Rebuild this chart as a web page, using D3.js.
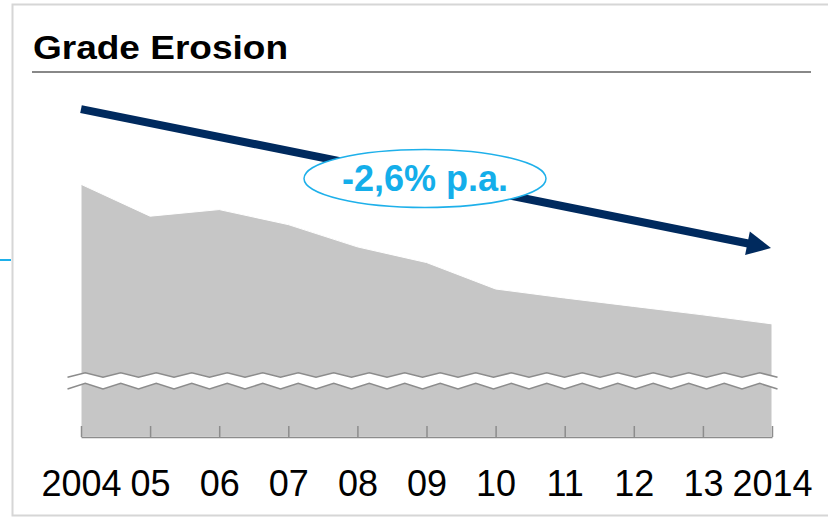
<!DOCTYPE html>
<html>
<head>
<meta charset="utf-8">
<script src="https://cdn.jsdelivr.net/npm/d3@7"></script>
<style>
  body { margin: 0; background: #fff; }
  svg { display: block; font-family: "Liberation Sans", Arial, sans-serif; }
</style>
</head>
<body>
<div id="chart"></div>
<script>
// years along the x axis and the grade index (2004 = 100)
var years = ["2004", "05", "06", "07", "08", "09", "10", "11", "12", "13", "2014"];
var gradeIndex = [100, 94.7, 95.8, 93.3, 89.6, 87.0, 82.6, 81.1, 79.7, 78.3, 76.8];
var trendLabel = "-2,6% p.a.";
var trendFrom = 112.5, trendTo = 89.4; // trend arrow, in index units

var width = 828, height = 517;

var svg = d3
  .select("#chart")
  .append("svg")
  .attr("width", width)
  .attr("height", height);

// frame
svg
  .append("path")
  .attr("d", "M" + (width + 2) + ",4.5H12.5V515.5H" + (width + 2))
  .attr("fill", "none")
  .attr("stroke", "#d6d6d6")
  .attr("stroke-width", 2);

svg
  .append("line")
  .attr("x1", 0)
  .attr("x2", 11)
  .attr("y1", 260)
  .attr("y2", 260)
  .attr("stroke", "#1eb0ea")
  .attr("stroke-width", 2);

// title
svg
  .append("text")
  .attr("x", 33)
  .attr("y", 59)
  .attr("textLength", 255)
  .attr("lengthAdjust", "spacingAndGlyphs")
  .style("font-size", "34px")
  .style("font-weight", "bold")
  .text("Grade Erosion");

svg
  .append("line")
  .attr("x1", 32)
  .attr("x2", 811)
  .attr("y1", 72)
  .attr("y2", 72)
  .attr("stroke", "#888")
  .attr("stroke-width", 2);

var x = d3.scalePoint().domain(years).range([81, 772]);
var y = d3.scaleLinear().domain([58, 100]).range([437, 184.3]);

var data = years.map(function (d, i) {
  return { year: d, value: gradeIndex[i] };
});

var area = d3
  .area()
  .x(function (d) { return x(d.year); })
  .y0(y(58))
  .y1(function (d) { return y(d.value); });

svg
  .append("path")
  .datum(data)
  .attr("d", area)
  .attr("fill", "#c6c6c6")
  .attr("stroke", "#fff")
  .attr("stroke-width", 1);

// axis break (zigzag)
var zigStep = 17.75;
function zigzag(yMid, amp) {
  var pts = [];
  for (var px = 67.5, k = 0; px <= 781; px += zigStep, k++) {
    pts.push([px, yMid + (k % 2 === 0 ? amp : -amp)]);
  }
  return pts;
}
var upper = zigzag(375, 2.2);
var lower = zigzag(386.2, 2.8);
svg
  .append("path")
  .attr("d", d3.line()(upper.concat(lower.slice().reverse())) + "Z")
  .attr("fill", "#fff");
[upper, lower].forEach(function (pts) {
  svg
    .append("path")
    .attr("d", d3.line()(pts))
    .attr("fill", "none")
    .attr("stroke", "#8c8c8c")
    .attr("stroke-width", 1.5);
});

// x axis
var xAxis = svg
  .append("g")
  .attr("transform", "translate(0," + y(58) + ")")
  .call(d3.axisBottom(x).tickSizeInner(-11).tickSizeOuter(0).tickPadding(33));
xAxis.select(".domain").attr("stroke", "#8c8c8c").attr("stroke-width", 1.5);
xAxis.selectAll(".tick line").attr("stroke", "#8c8c8c").attr("stroke-width", 1.5);
xAxis
  .selectAll(".tick text")
  .style("font-size", "36px")
  .style("font-family", "Liberation Sans, Arial, sans-serif")
  .attr("fill", "#000");

// trend arrow
var x1 = x("2004"), y1 = y(trendFrom);
var x2 = x("2014") - 1, y2 = y(trendTo);
var len = Math.hypot(x2 - x1, y2 - y1);
var ux = (x2 - x1) / len, uy = (y2 - y1) / len;
var headLen = 24, headHalf = 12;
var bx = x2 - ux * headLen, by = y2 - uy * headLen;

svg
  .append("line")
  .attr("x1", x1)
  .attr("y1", y1)
  .attr("x2", bx + ux * 2)
  .attr("y2", by + uy * 2)
  .attr("stroke", "#002a5e")
  .attr("stroke-width", 8);

svg
  .append("path")
  .attr(
    "d",
    "M" + x2 + "," + y2 +
      "L" + (bx - uy * headHalf) + "," + (by + ux * headHalf) +
      "L" + (bx + uy * headHalf) + "," + (by - ux * headHalf) + "Z"
  )
  .attr("fill", "#002a5e");

// growth label
var label = svg.append("g").attr("transform", "translate(425,178.5)");
label
  .append("ellipse")
  .attr("rx", 121)
  .attr("ry", 29)
  .attr("fill", "#fff")
  .attr("stroke", "#1eb0ea")
  .attr("stroke-width", 1.5);
label
  .append("text")
  .attr("text-anchor", "middle")
  .attr("y", 12.5)
  .style("font-size", "36px")
  .style("font-weight", "bold")
  .attr("fill", "#14aeea")
  .text(trendLabel);
</script>
</body>
</html>
